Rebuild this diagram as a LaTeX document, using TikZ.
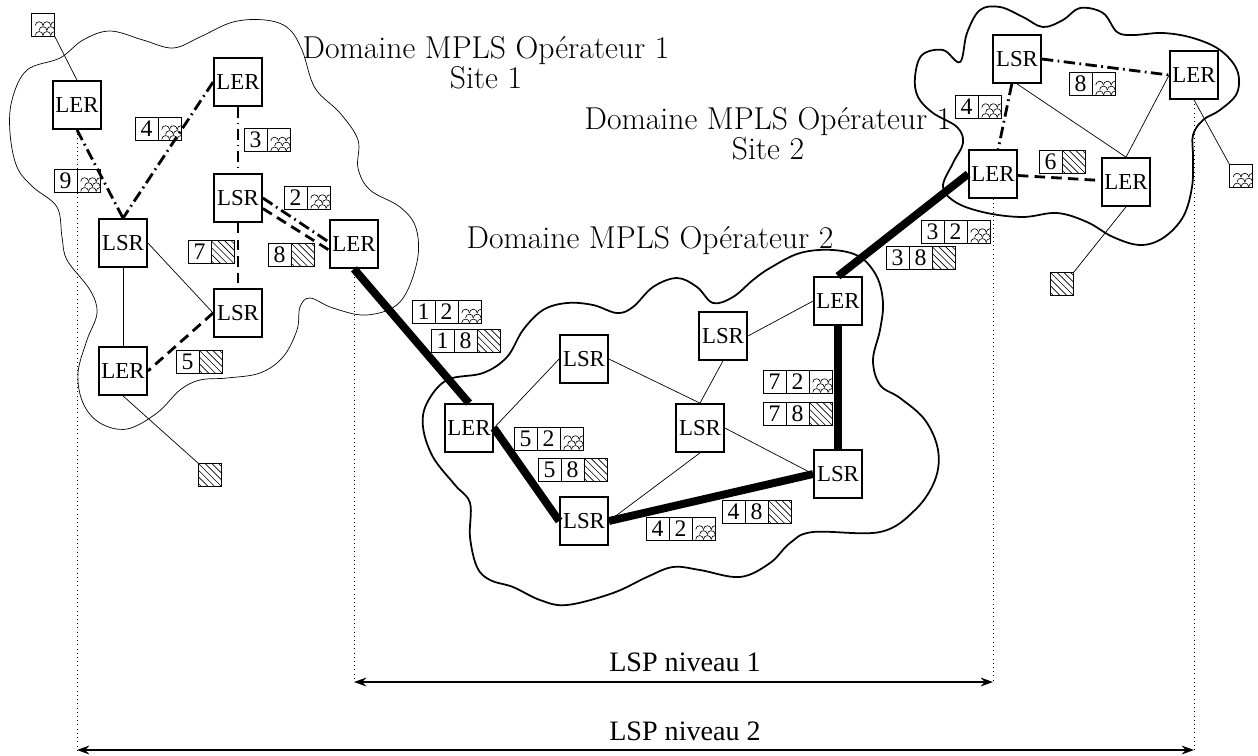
\documentclass[tikz,border=0pt]{standalone}
\usepackage{fontspec}
\newfontfamily\routeurfont{Liberation Serif}
\usetikzlibrary{positioning,arrows.meta}

\tikzset{
  routeur/.style={draw, line width=1pt, minimum size=0.96cm, inner sep=0pt,
    font={\routeurfont\fontsize{13}{13}\selectfont}},
  case/.style={draw, thin, minimum size=0.46cm, inner sep=0pt, outer sep=0pt,
    font={\routeurfont\fontsize{13.5}{13.5}\selectfont}},
  ecaille/.style={case, path picture={
      \begin{scope}[shift={(path picture bounding box.north west)}]
        \foreach \r in {0,...,5}
          \foreach \c in {-1,...,3}
            \draw[line width=0.35pt] ({\c*4.4pt+mod(\r,2)*2.2pt}, {-0.6pt-\r*2.8pt})
              arc[start angle=180, end angle=0, radius=2.2pt];
      \end{scope}}},
  hachure/.style={case, path picture={
      \foreach \k in {-4,...,4}
        \draw[line width=0.35pt] ([xshift=\k*3.8pt]path picture bounding box.north west) -- ++(15pt,-15pt);}},
  lien/.style={thin},
  lsp/.style={line width=4.5pt},
  tiret/.style={line width=1.6pt, dash pattern=on 6pt off 3.5pt},
  tiretpoint/.style={line width=1.6pt, dash pattern=on 6.5pt off 2.5pt on 1pt off 2.5pt},
  repere/.style={dotted, thin},
  nuage/.style={line width=1pt},
  fleche/.style={{Stealth[length=7pt,width=5pt]}-{Stealth[length=7pt,width=5pt]}, line width=0.9pt},
  domaine/.style={align=center, inner sep=0pt, font=\fontsize{18}{15.5}\selectfont},
  niveau/.style={inner sep=0pt, font={\routeurfont\fontsize{16}{18}\selectfont}},
}

% etiquette a un numero : nom, position, numero, motif
\newcommand{\etiqA}[4]{%
  \node[case] (#1a) at (#2) {#3};
  \node[#4, right=0pt of #1a] (#1b) {};}
% etiquette a deux numeros
\newcommand{\etiqB}[5]{%
  \node[case] (#1a) at (#2) {#3};
  \node[case, right=0pt of #1a] (#1b) {#4};
  \node[#5, right=0pt of #1b] (#1c) {};}

\begin{document}
\begin{tikzpicture}[x=0.02cm,y=-0.02cm]
  \useasboundingbox (0,0) rectangle (1258,755);

  %nuages
  \draw[thin] plot[smooth cycle, tension=0.6] coordinates {
    (12,100) (27,70) (60,58) (83,40) (110,31) (143,40) (173,48) (200,37)
    (233,22) (265,20) (288,28) (302,50) (315,88) (340,113) (358,140)
    (358,168) (370,190) (400,207) (416,228) (417,262) (400,302) (367,315)
    (333,308) (310,298) (300,307) (297,330) (283,357) (260,373) (227,378)
    (200,380) (180,390) (157,413) (127,429) (100,423) (83,403) (78,373)
    (87,340) (97,313) (90,290) (67,260) (62,237) (57,207) (33,187) (17,167) (10,133)};
  \draw[nuage] plot[smooth cycle, tension=0.6] coordinates {
    (447,380) (483,373) (507,357) (523,330) (543,310) (567,303) (593,305)
    (617,313) (633,307) (653,287) (677,278) (697,287) (713,303) (733,297)
    (753,280) (770,268) (800,253) (833,250) (860,257) (877,277) (883,303)
    (880,330) (873,360) (880,385) (900,398) (925,420) (938,450) (935,480)
    (915,510) (880,532) (813,532) (790,543) (770,563) (740,577) (700,570)
    (673,567) (647,577) (613,593) (567,605) (540,600) (513,587) (490,580)
    (477,567) (470,537) (470,503) (455,485) (433,457) (423,427) (427,403)};
  \draw[nuage] plot[smooth cycle, tension=0.6] coordinates {
    (915,77) (922,55) (943,50) (960,62) (967,33) (980,10) (1000,7) (1023,17)
    (1043,27) (1063,20) (1080,8) (1103,13) (1117,32) (1133,35) (1163,33)
    (1193,38) (1220,50) (1237,70) (1237,93) (1220,110) (1203,120) (1193,135)
    (1193,157) (1192,187) (1183,217) (1163,238) (1140,245) (1113,237)
    (1087,222) (1057,213) (1023,217) (987,213) (957,203) (943,187) (953,163)
    (963,143) (957,127) (933,113) (918,97)};

  %routeurs site 1
  \node[routeur] (lerA) at (77,105) {LER};
  \node[routeur] (lerB) at (238,82) {LER};
  \node[routeur] (lsrC) at (238,198) {LSR};
  \node[routeur] (lsrD) at (123,243) {LSR};
  \node[routeur] (lerE) at (354,244) {LER};
  \node[routeur] (lsrF) at (238,313) {LSR};
  \node[routeur] (lerG) at (123,371) {LER};
  %routeurs operateur 2
  \node[routeur] (lerM) at (469,428) {LER};
  \node[routeur] (lsrN) at (584,359) {LSR};
  \node[routeur] (lsrO) at (584,521) {LSR};
  \node[routeur] (lsrP) at (700,428) {LSR};
  \node[routeur] (lsrQ) at (723,336) {LSR};
  \node[routeur] (lerR) at (838,301) {LER};
  \node[routeur] (lsrS) at (838,474) {LSR};
  %routeurs site 2
  \node[routeur] (lsrT) at (1017,59) {LSR};
  \node[routeur] (lerU) at (1194,75) {LER};
  \node[routeur] (lerV) at (993,174) {LER};
  \node[routeur] (lerW) at (1126,182) {LER};
  %clients
  \node[ecaille] (cliA) at (43,24.5) {};
  \node[hachure] (cliB) at (210,475) {};
  \node[ecaille] (cliC) at (1241,176) {};
  \node[hachure] (cliD) at (1062,284) {};

  %liens site 1
  \draw[lien] (cliA.south east) -- (lerA.north);
  \draw[lien] (lerG.south) -- (cliB.north west);
  \draw[lien] (lsrD) -- (lerG);
  \draw[lien] (lsrD.east) -- (lsrF.west);
  \draw[tiretpoint] (lerA.south) -- (lsrD.north);
  \draw[tiretpoint] (lerB.west) -- (lsrD.north);
  \draw[tiretpoint] (lerB) -- (lsrC);
  \draw[tiretpoint] (lsrC.east) -- ([yshift=1pt]lerE.west);
  \draw[tiret] ([yshift=-6pt]lsrC.east) -- ([yshift=-3.5pt]lerE.west);
  \draw[tiret] (lsrC) -- (lsrF);
  \draw[tiret] (lsrF.west) -- (lerG.east);
  %liens operateur 2
  \draw[lien] (lerM.east) -- (lsrN.west);
  \draw[lien] (lsrN.east) -- (lsrP.north);
  \draw[lien] (lsrP.north) -- (lsrQ.south);
  \draw[lien] (lsrQ.east) -- (lerR.west);
  \draw[lien] (lsrO.east) -- (lsrP.south);
  \draw[lien] (lsrP.east) -- (lsrS.west);
  %chemin lsp
  \draw[lsp] (lerE.south) -- (lerM.north);
  \draw[lsp] (lerM.east) -- (lsrO.west);
  \draw[lsp] (lsrO.east) -- (lsrS.west);
  \draw[lsp] (lsrS.north) -- (lerR.south);
  \draw[lsp] (lerR.north) -- (lerV.west);
  %liens site 2
  \draw[tiretpoint] (lsrT.east) -- (lerU.west);
  \draw[tiretpoint] (lsrT) -- (lerV);
  \draw[tiret] (lerV) -- (lerW);
  \draw[lien] (lsrT.south) -- (lerW.north);
  \draw[lien] (lerU.west) -- (lerW.north);
  \draw[lien] (lerU.south) -- (cliC.north west);
  \draw[lien] (lerW.south) -- (cliD.north east);

  %etiquettes
  \etiqA{e9}{65.5,180.5}{9}{ecaille}
  \etiqA{e4}{146.5,128.5}{4}{ecaille}
  \etiqA{e3}{255.5,140}{3}{ecaille}
  \etiqA{e2}{295.5,197.5}{2}{ecaille}
  \etiqA{e7}{199.5,252}{7}{hachure}
  \etiqA{e8}{279.5,254.5}{8}{hachure}
  \etiqA{e5}{187.5,361.5}{5}{hachure}
  \etiqB{f12}{423.5,312}{1}{2}{ecaille}
  \etiqB{f18}{442.5,340.5}{1}{8}{hachure}
  \etiqB{f52}{525.5,438.5}{5}{2}{ecaille}
  \etiqB{f58}{549.5,469.5}{5}{8}{hachure}
  \etiqB{f72}{774.5,381.5}{7}{2}{ecaille}
  \etiqB{f78}{774.5,413.5}{7}{8}{hachure}
  \etiqB{f48}{733.5,511.5}{4}{8}{hachure}
  \etiqB{f42}{657.5,528.5}{4}{2}{ecaille}
  \etiqB{f32}{932.5,231.5}{3}{2}{ecaille}
  \etiqB{f38}{897.5,258}{3}{8}{hachure}
  \etiqA{g8}{1080.5,84}{8}{ecaille}
  \etiqA{g4}{966.5,106.5}{4}{ecaille}
  \etiqA{g6}{1050.5,161.5}{6}{hachure}

  %textes
  \node[domaine] (titre1) at (486,63) {Domaine MPLS Opérateur 1\\Site 1};
  \node[domaine] (titre2) at (768,134) {Domaine MPLS Opérateur 1\\Site 2};
  \node[domaine, anchor=base] (titre3) at (650,248) {Domaine MPLS Opérateur 2};

  %niveaux lsp
  \coordinate (basA) at (77,750);
  \coordinate (basE) at (354,682);
  \coordinate (basV) at (993,682);
  \coordinate (basU) at (1194,750);
  \draw[repere] (lerA.south) -- (basA);
  \draw[repere] (lerE.south) -- (basE);
  \draw[repere] (lerV.south) -- (basV);
  \draw[repere] (lerU.south) -- (basU);
  \draw[fleche] (basE) -- (basV);
  \draw[fleche] (basA) -- (basU);
  \node[niveau, anchor=base] (niv1) at (685,671) {LSP niveau 1};
  \node[niveau, anchor=base] (niv2) at (685,740) {LSP niveau 2};
\end{tikzpicture}
\end{document}
